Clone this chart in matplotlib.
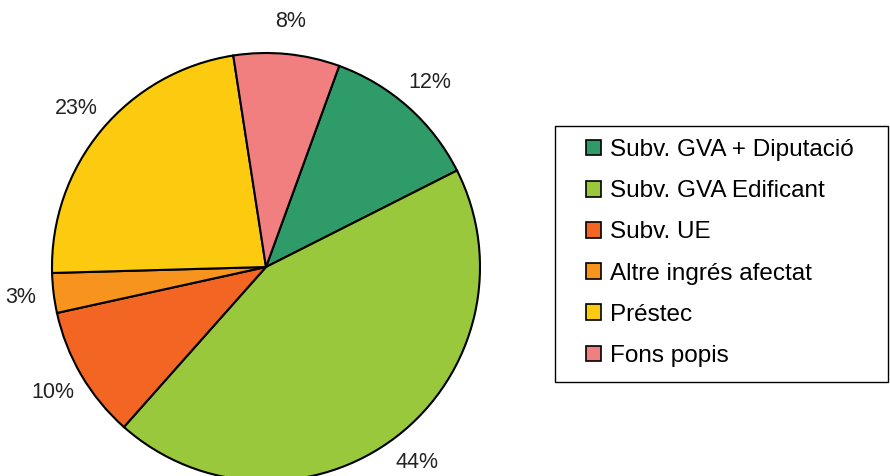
import matplotlib
matplotlib.use("Agg")
import matplotlib.pyplot as plt
from matplotlib.patches import Patch, Rectangle

plt.rcParams['font.family'] = ['Liberation Sans', 'DejaVu Sans']

categories = ['Subv. GVA + Diputació', 'Subv. GVA Edificant', 'Subv. UE',
              'Altre ingrés afectat', 'Préstec', 'Fons popis']
values = [12, 44, 10, 3, 23, 8]
colors = ['#2E9B68', '#9AC83C', '#F26522', '#F7941D', '#FCCB0F', '#F27F80']

fig = plt.figure(figsize=(8.9, 4.76), dpi=100)
ax = fig.add_axes([0, 0, 1, 1])

wedges, texts, autotexts = ax.pie(
    values, colors=colors, center=(266, 209), radius=214,
    startangle=70, counterclock=False,
    autopct='%.0f%%', pctdistance=1.155,
    wedgeprops=dict(edgecolor='black', linewidth=1.5),
    textprops=dict(fontsize=15.5, color='#222222'),
    frame=True)
ax.set_xlim(0, 890)
ax.set_ylim(0, 476)
ax.axis('off')

# legend box drawn by hand
fig.patches.append(Rectangle((555 / 890, 1 - 382 / 476), 333 / 890, 256 / 476,
                             transform=fig.transFigure, facecolor='white',
                             edgecolor='black', linewidth=1.0, zorder=1))

handles = [Patch(facecolor=c, edgecolor='black', linewidth=1.2) for c in colors]
leg = fig.legend(handles, categories, loc='upper left',
                 bbox_to_anchor=(586 / 890, 1 - 139 / 476),
                 frameon=False, fontsize=17.5, handlelength=0.62,
                 handleheight=0.62, handletextpad=0.35, labelspacing=0.79,
                 borderpad=0, borderaxespad=0)
leg.set_zorder(2)

fig.savefig('out.png', dpi=100)
